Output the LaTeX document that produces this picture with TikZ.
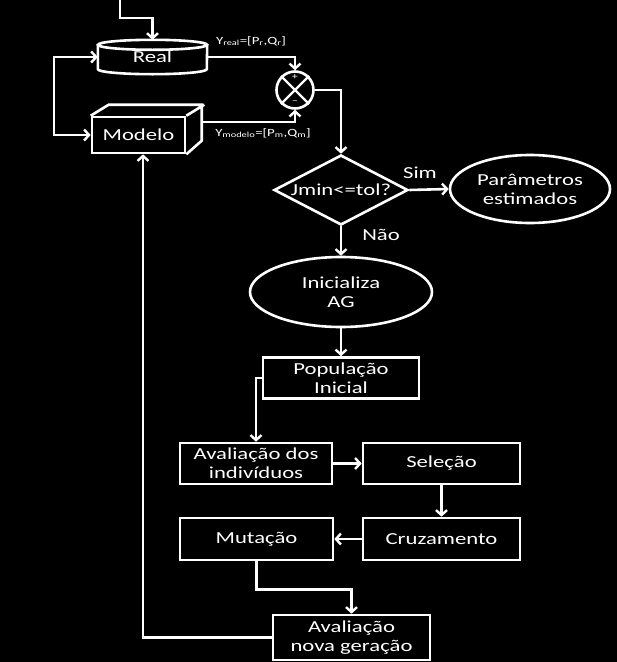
\documentclass[tikz,border=0pt]{standalone}
\usepackage{fontspec}
\setmainfont{Carlito}[FakeStretch=1.35]
\usetikzlibrary{arrows.meta,shapes.geometric,calc}
\begin{document}
\begin{tikzpicture}[x=1pt,y=-1pt,
  every node/.style={text=white, font=\fontsize{16.8}{19}\selectfont, align=center},
  ln/.style={draw=white, line width=2.6pt, line join=miter},
  arr/.style={ln, -{Straight Barb[length=5pt,width=11pt,line width=2.4pt]}},
  box/.style={draw=white, line width=2.6pt, rectangle, inner sep=0pt},
  oval/.style={draw=white, line width=2.6pt, ellipse, inner sep=0pt},
  lbl/.style={font=\fontsize{11}{12}\selectfont, inner sep=0pt},
  sgn/.style={font=\fontsize{9}{10}\selectfont, inner sep=0pt}
]
\fill[black] (0,0) rectangle (617,662);
\useasboundingbox (0,0) rectangle (617,662);

% Real (cylinder)
\node[minimum width=109pt, minimum height=24pt, inner sep=0pt] (real) at (152.5,57) {Real};
\draw[ln] (real.north west) -- (real.south west)
  arc[start angle=180, end angle=360, x radius=54.5pt, y radius=5pt] -- (real.north east);
\draw[ln] (real.north) ellipse [x radius=54.5pt, y radius=5pt];

% Modelo (3D box)
\node[box, minimum width=93pt, minimum height=36pt] (modelo) at (138.5,135) {Modelo};
\draw[ln] (modelo.north west) -- ++(18,-11) -- ++(93,0) -- ++(0,36) -- (modelo.south east)
  (modelo.north east) -- ++(18,-11);
\coordinate (modR) at (203,122);

% summing junction
\node[draw=white, line width=2.6pt, circle, minimum size=37pt, inner sep=0pt] (sum) at (295,90) {};
\draw[ln, line width=2.2pt] (sum.north east) -- (sum.south west) (sum.north west) -- (sum.south east);
\node[sgn] (plus) at (295,77.5) {+};
\node[sgn] (minus) at (295,102) {\textendash};

% input
\coordinate (in) at (120,0);
\draw[arr] (in) -- (120,18) -| ([yshift=5pt]real.north);

% loop between Real and Modelo
\draw[ln, {Straight Barb[length=5pt,width=11pt,line width=2.4pt]}-{Straight Barb[length=5pt,width=11pt,line width=2.4pt]}]
  (real.west) -- ++(-44,0) |- (modelo.west);

% outputs
\draw[arr] (real.east) -| (sum.north);
\draw[arr] (modR) -| (sum.south);
\node[lbl] (yreal) at (251,41) {Y\textsubscript{real}=[P\textsubscript{r},Q\textsubscript{r}]};
\node[lbl] (ymod) at (263,133) {Y\textsubscript{modelo}=[P\textsubscript{m},Q\textsubscript{m}]};

% decision
\node[draw=white, line width=2.6pt, diamond, aspect=1.9, minimum width=134pt, minimum height=70pt, inner sep=0pt] (dec) at (341,190) {Jmin<=tol?};
\draw[arr] (sum.east) -| (dec.north);

\node[oval, minimum width=160pt, minimum height=68pt] (par) at (530,189) {Parâmetros\\estimados};
\draw[arr] (dec.east) -- (par.west);
\node (sim) at (420,173) {Sim};

\node[oval, minimum width=182pt, minimum height=70pt] (ini) at (341,292) {Inicializa\\AG};
\draw[arr] (dec.south) -- (ini.north);
\node (nao) at (381,235) {Não};

\node[box, minimum width=156pt, minimum height=41pt] (pop) at (341,378) {População\\Inicial};
\draw[arr] (ini.south) -- (pop.north);

\node[box, minimum width=152pt, minimum height=41pt] (aval) at (256,463.5) {Avaliação dos\\indivíduos};
\draw[arr] (pop.west) -| (aval.north);

\node[box, minimum width=157pt, minimum height=41pt] (sel) at (441.5,463.5) {Seleção};
\draw[arr] (aval.east) -- (sel.west);

\node[box, minimum width=157pt, minimum height=42pt] (cruz) at (441.5,539) {Cruzamento};
\draw[arr] (sel.south) -- (cruz.north);

\node[box, minimum width=153pt, minimum height=42pt] (mut) at (256.5,539) {Mutação};
\draw[arr] (cruz.west) -- (mut.east);

\node[box, minimum width=157pt, minimum height=45pt] (nova) at (351.5,637.5) {Avaliação\\nova geração};
\draw[arr] (mut.south) -- ++(0,28) -| (nova.north);
\draw[arr] (nova.west) -| ([xshift=4.5pt]modelo.south);
\end{tikzpicture}
\end{document}
